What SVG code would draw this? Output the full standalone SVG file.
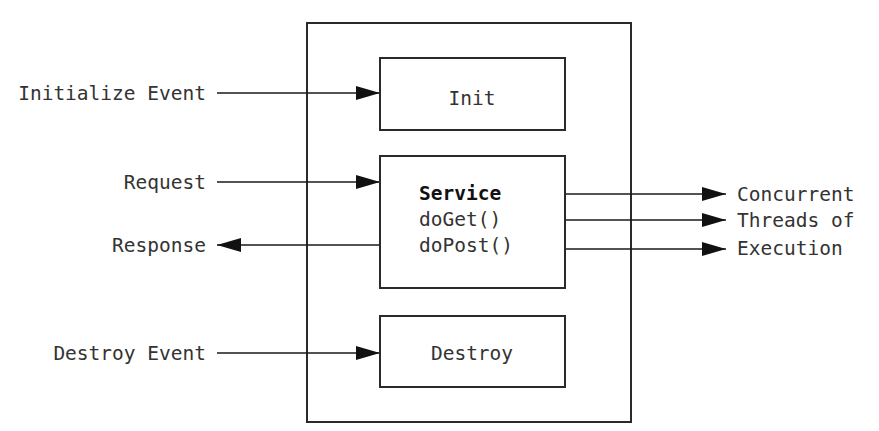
<svg xmlns="http://www.w3.org/2000/svg" width="879" height="431" viewBox="0 0 879 431">
<style>
.box{fill:#fff;stroke:#2a2a2a;stroke-width:2}
.ln{stroke:#1a1a1a;stroke-width:1.6;fill:none}
.t{font-family:"DejaVu Sans Mono","Liberation Mono",monospace;font-size:19.5px;fill:#333}
.b{font-weight:bold;fill:#111}
</style>
<defs>
<marker id="ah" viewBox="0 0 24 14" refX="24" refY="7" markerWidth="24" markerHeight="14" markerUnits="userSpaceOnUse" orient="auto">
<path d="M0,0 L24,7 L0,14 z" fill="#111"/>
</marker>
</defs>
<rect width="879" height="431" fill="#fff"/>
<g id="container"><rect class="box" x="307" y="23" width="324" height="399"/></g>
<g id="connectors">
<line class="ln" x1="217" y1="93" x2="380" y2="93" marker-end="url(#ah)"/>
<line class="ln" x1="217" y1="182" x2="380" y2="182" marker-end="url(#ah)"/>
<line class="ln" x1="380" y1="245" x2="217" y2="245" marker-end="url(#ah)"/>
<line class="ln" x1="217" y1="353" x2="380" y2="353" marker-end="url(#ah)"/>
<line class="ln" x1="565" y1="194" x2="726" y2="194" marker-end="url(#ah)"/>
<line class="ln" x1="565" y1="220" x2="726" y2="220" marker-end="url(#ah)"/>
<line class="ln" x1="565" y1="249" x2="726" y2="249" marker-end="url(#ah)"/>
</g>
<g id="init"><rect class="box" x="380" y="58" width="185" height="72"/><text class="t" x="472" y="105" text-anchor="middle">Init</text></g>
<g id="service"><rect class="box" x="380" y="156" width="185" height="132"/>
<text class="t b" x="419" y="200">Service</text>
<text class="t" x="419" y="226">doGet()</text>
<text class="t" x="419" y="252">doPost()</text></g>
<g id="destroy"><rect class="box" x="380" y="316" width="185" height="71"/><text class="t" x="472" y="360" text-anchor="middle">Destroy</text></g>
<g id="labels">
<text class="t" x="206" y="100" text-anchor="end">Initialize Event</text>
<text class="t" x="206" y="189" text-anchor="end">Request</text>
<text class="t" x="206" y="252" text-anchor="end">Response</text>
<text class="t" x="206" y="360" text-anchor="end">Destroy Event</text>
<text class="t" x="737" y="201">Concurrent</text>
<text class="t" x="737" y="227">Threads of</text>
<text class="t" x="737" y="255">Execution</text>
</g>
</svg>
